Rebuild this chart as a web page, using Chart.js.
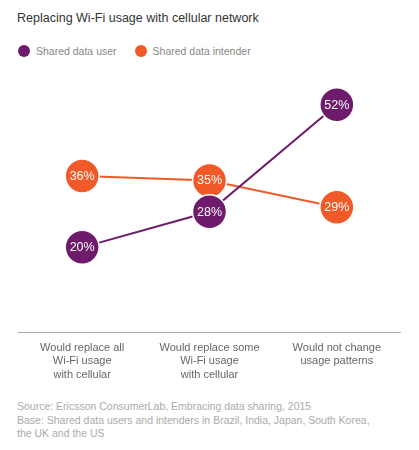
<!DOCTYPE html>
<html>
<head>
<meta charset="utf-8">
<script src="https://cdn.jsdelivr.net/npm/chart.js@4"></script>
<style>
  body { margin: 0; background: #fff; font-family: "Liberation Sans", Arial, sans-serif; }
  #wrap { position: relative; width: 419px; height: 450px; overflow: hidden; }
  #title { position: absolute; left: 17px; top: 11px; font-size: 12.5px; color: #333; white-space: nowrap; }
  #legend { position: absolute; left: 18px; top: 45px; font-size: 10.5px; color: #888; display: flex; }
  #legend .item { display: flex; align-items: center; margin-right: 18px; }
  #legend .dot { width: 12px; height: 12px; border-radius: 50%; margin-right: 6px; }
  #box { position: absolute; left: 0; top: 0; width: 419px; height: 392px; }
  #source { position: absolute; left: 17px; top: 400px; font-size: 10.5px; line-height: 13.5px; color: #aaa; white-space: nowrap; }
</style>
</head>
<body>
<div id="wrap">
  <div id="title">Replacing Wi-Fi usage with cellular network</div>
  <div id="legend"></div>
  <div id="box"><canvas id="lineChart"></canvas></div>
  <div id="source">Source: Ericsson ConsumerLab, Embracing data sharing, 2015<br>Base: Shared data users and intenders in Brazil, India, Japan, South Korea,<br>the UK and the US</div>
</div>
<script>
const categories = [
  ["Would replace all", "Wi-Fi usage", "with cellular"],
  ["Would replace some", "Wi-Fi usage", "with cellular"],
  ["Would not change", "usage patterns"]
];
const seriesNames = ["Shared data user", "Shared data intender"];
const userValues = [20, 28, 52];
const intenderValues = [36, 35, 29];
const seriesColors = ["#6d1b6a", "#f05a28"];

// html legend
const legend = document.getElementById("legend");
seriesNames.forEach((name, i) => {
  const item = document.createElement("div");
  item.className = "item";
  item.innerHTML = '<span class="dot" style="background:' + seriesColors[i] + '"></span>' + name;
  legend.appendChild(item);
});

// write the % value in the middle of every point
const pointLabels = {
  id: "pointLabels",
  afterDatasetDraw(chart, args) {
    const ctx = chart.ctx;
    const ds = chart.data.datasets[args.index];
    ctx.save();
    ctx.fillStyle = "#fff";
    ctx.font = "12.5px 'Liberation Sans', Arial, sans-serif";
    ctx.textAlign = "center";
    ctx.textBaseline = "middle";
    args.meta.data.forEach((pt, i) => {
      ctx.fillText(ds.data[i] + "%", pt.x, pt.y + 0.5);
    });
    ctx.restore();
  }
};

const ctx = document.getElementById("lineChart");
new Chart(ctx, {
  type: "line",
  data: {
    labels: categories,
    datasets: [
      {
        label: seriesNames[0],
        data: userValues,
        borderColor: seriesColors[0],
        backgroundColor: seriesColors[0],
        borderWidth: 2,
        pointRadius: 17,
        pointBorderColor: "#fff",
        pointBorderWidth: 1.5,
        pointBackgroundColor: seriesColors[0],
        tension: 0,
        clip: false
      },
      {
        label: seriesNames[1],
        data: intenderValues,
        borderColor: seriesColors[1],
        backgroundColor: seriesColors[1],
        borderWidth: 2,
        pointRadius: 17,
        pointBorderColor: "#fff",
        pointBorderWidth: 1.5,
        pointBackgroundColor: seriesColors[1],
        tension: 0,
        clip: false
      }
    ]
  },
  options: {
    responsive: true,
    maintainAspectRatio: false,
    animation: false,
    layout: {
      padding: { top: 87, left: 13, right: 12, bottom: 0 }
    },
    plugins: {
      legend: { display: false },
      tooltip: { enabled: false }
    },
    scales: {
      x: {
        offset: true,
        grid: { display: false, drawTicks: false },
        border: { display: true, color: "#aaa", width: 1 },
        ticks: {
          color: "#666",
          padding: 9,
          maxRotation: 0,
          autoSkip: false,
          font: { family: "'Liberation Sans', Arial, sans-serif", size: 11, lineHeight: 1.22 }
        },
        afterFit: (scale) => { scale.height = 60; }
      },
      y: {
        display: false,
        min: 1,
        max: 56
      }
    }
  },
  plugins: [pointLabels]
});
</script>
</body>
</html>
